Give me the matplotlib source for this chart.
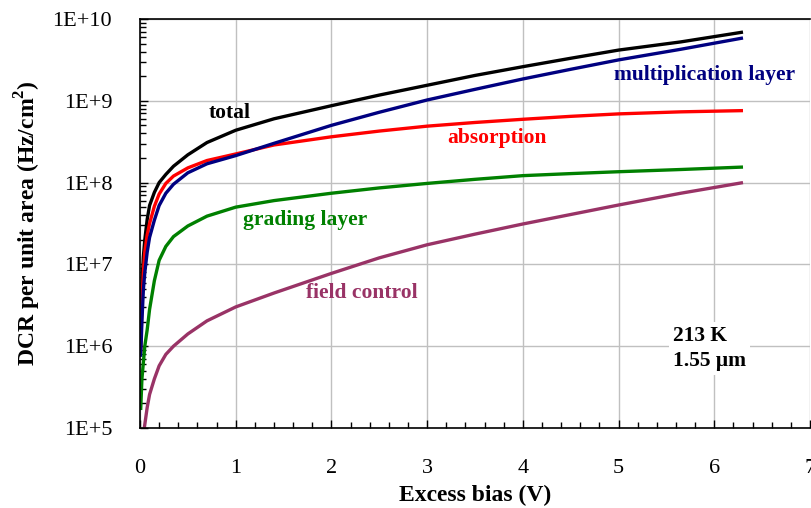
import numpy as np
import matplotlib
matplotlib.use("Agg")
import matplotlib.pyplot as plt
from matplotlib.ticker import MultipleLocator, FixedLocator, LogLocator, NullFormatter

plt.rcParams['font.family'] = ['Liberation Serif', 'DejaVu Serif']
plt.rcParams['mathtext.fontset'] = 'custom'
plt.rcParams['mathtext.rm'] = 'Liberation Serif:bold'
plt.rcParams['mathtext.bf'] = 'Liberation Serif:bold'

# excess bias (V)
x_common = [0.007, 0.02, 0.035, 0.05, 0.075, 0.1, 0.15, 0.2, 0.27, 0.35, 0.5, 0.7, 1.0,
            1.4, 2.0, 2.5, 3.0, 3.5, 4.0, 4.5, 5.0, 5.65, 6.3]
x_field = [0.045, 0.075, 0.1, 0.15, 0.2, 0.27, 0.35, 0.5, 0.7, 1.0,
           1.4, 2.0, 2.5, 3.0, 3.5, 4.0, 4.5, 5.0, 5.65, 6.3]

# DCR per unit area, log10 values
total_log = [6.2, 6.75, 7.09, 7.3, 7.55, 7.72, 7.88, 8.0, 8.1, 8.2, 8.34, 8.49, 8.64,
             8.78, 8.94, 9.07, 9.19, 9.31, 9.417, 9.52, 9.62, 9.72, 9.84]
mult_log = [5.87, 6.3, 6.69, 6.9, 7.15, 7.33, 7.54, 7.72, 7.87, 7.98, 8.12, 8.23, 8.33,
            8.48, 8.70, 8.86, 9.01, 9.14, 9.267, 9.385, 9.50, 9.63, 9.768]
absorp_log = [5.92, 6.5, 6.9, 7.15, 7.36, 7.5, 7.71, 7.86, 7.99, 8.08, 8.18, 8.27, 8.35,
              8.46, 8.56, 8.63, 8.69, 8.735, 8.774, 8.81, 8.84, 8.865, 8.88]
grading_log = [5.22, 5.6, 5.8, 6.0, 6.2, 6.45, 6.8, 7.05, 7.22, 7.34, 7.47, 7.59, 7.70,
               7.78, 7.87, 7.935, 7.99, 8.04, 8.085, 8.11, 8.133, 8.16, 8.19]
field_log = [5.0, 5.25, 5.41, 5.6, 5.76, 5.9, 6.0, 6.15, 6.31, 6.48,
             6.65, 6.89, 7.08, 7.24, 7.37, 7.494, 7.61, 7.726, 7.87, 8.0]

ytick_vals = [1e5, 1e6, 1e7, 1e8, 1e9, 1e10]
ytick_labels = ['1E+5', '1E+6', '1E+7', '1E+8', '1E+9', '1E+10']

fig = plt.figure(figsize=(8.11, 5.08), dpi=100)
ax = fig.add_axes([140/811, 80/508, 670/811, 409/508])

lw = 2.4
style = dict(lw=lw, solid_joinstyle='round', solid_capstyle='butt')
ax.plot(x_common, 10**np.array(total_log), color='black', **style)
ax.plot(x_common, 10**np.array(absorp_log), color='#FF0000', **style)
ax.plot(x_common, 10**np.array(mult_log), color='#000080', **style)
ax.plot(x_common, 10**np.array(grading_log), color='#008000', **style)
ax.plot(x_field, 10**np.array(field_log), color='#993366', **style)

ax.set_yscale('log')
ax.set_xlim(0, 7)
ax.set_ylim(1e5, 1e10)

ax.xaxis.set_major_locator(MultipleLocator(1))
ax.xaxis.set_minor_locator(MultipleLocator(0.2))
ax.yaxis.set_major_locator(FixedLocator(ytick_vals))
ax.set_yticklabels(ytick_labels)
ax.yaxis.set_minor_locator(LogLocator(base=10, subs=np.arange(2, 10)))
ax.yaxis.set_minor_formatter(NullFormatter())

ax.grid(True, which='major', color='#C0C0C0', lw=1)
ax.set_axisbelow(True)
ax.tick_params(which='major', direction='in', length=6, width=1, labelsize=16, color='black')
ax.tick_params(which='minor', direction='in', length=4, width=1)
ax.tick_params(axis='x', which='major', pad=22)
ax.tick_params(axis='y', which='major', pad=20)
ax.spines['right'].set_visible(False)
for s in ['left', 'bottom', 'top']:
    ax.spines[s].set_linewidth(1.2)

ax.set_xlabel('Excess bias (V)', fontsize=17, fontweight='bold', labelpad=5)
ax.set_ylabel(r'DCR per unit area (Hz/cm$^{\mathbf{2}}$)', fontsize=17, fontweight='bold', labelpad=7)

tk = dict(fontsize=15.5, fontweight='bold', ha='center', va='center')
ax.text(0.94, 10**8.85, 'total', color='black', **tk)
ax.text(5.9, 10**9.31, 'multiplication layer', color='#000080', **tk)
ax.text(3.73, 10**8.55, 'absorption', color='#FF0000', **tk)
ax.text(1.73, 10**7.54, 'grading layer', color='#008000', **tk)
ax.text(2.32, 10**6.65, 'field control', color='#993366', **tk)
ax.text(5.57, 10**5.97, '213 K\n1.55 \u03bcm', fontsize=15.5, fontweight='bold', ha='left', va='center',
        linespacing=1.3, bbox=dict(facecolor='white', edgecolor='none', pad=3))

fig.savefig('out.png', dpi=100)
